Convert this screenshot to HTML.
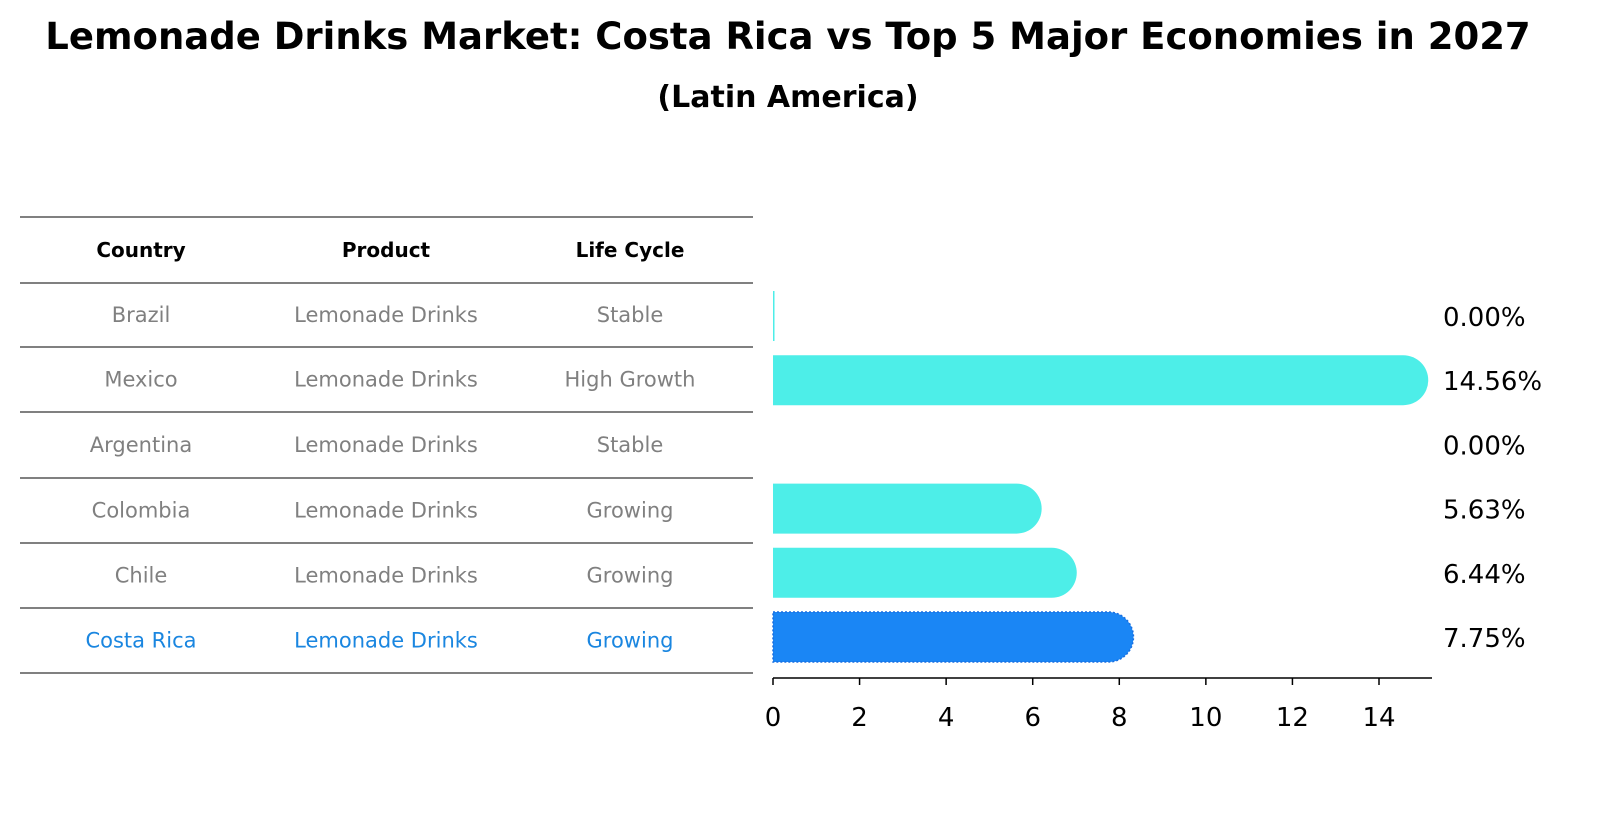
<!DOCTYPE html>
<html><head><meta charset="utf-8"><style>
html,body{margin:0;padding:0;background:#fff;overflow:hidden;width:1607px;height:823px;}
svg{display:block;}
</style></head><body>
<svg width="1607" height="823" viewBox="0 0 1607 823" xmlns="http://www.w3.org/2000/svg" font-family="DejaVu Sans, Liberation Sans, sans-serif">
<text x="788" y="49" text-anchor="middle" font-size="37" font-weight="bold">Lemonade Drinks Market: Costa Rica vs Top 5 Major Economies in 2027</text>
<text x="788" y="107" text-anchor="middle" font-size="30" font-weight="bold">(Latin America)</text>
<g id="table"></g>
<g id="bars"></g>
<g id="axis"></g>
</svg>
<script>
const countries=["Brazil","Mexico","Argentina","Colombia","Chile","Costa Rica"];
const products=["Lemonade Drinks","Lemonade Drinks","Lemonade Drinks","Lemonade Drinks","Lemonade Drinks","Lemonade Drinks"];
const lifeCycles=["Stable","High Growth","Stable","Growing","Growing","Growing"];
const values=[0.00,14.56,0.00,5.63,6.44,7.75];
const ticks=[0,2,4,6,8,10,12,14];
const NS="http://www.w3.org/2000/svg";
function mk(tag,attrs,parent,text){const e=document.createElementNS(NS,tag);for(const k in attrs)e.setAttribute(k,attrs[k]);if(text!==undefined)e.textContent=text;parent.appendChild(e);return e;}
const x0=773,unit=(1379-773)/14;
const xs=v=>x0+v*unit;
const rowY=i=>316+i*64.2;
const tbl=document.getElementById('table'),bars=document.getElementById('bars'),axis=document.getElementById('axis');
const colX=[141,386,630];
const lineYs=[217,283,347,412,478,543,608,673];
lineYs.forEach(y=>{const l=mk('line',{x1:20,x2:753,y1:y,y2:y,stroke:'#000','stroke-width':1},tbl);

});
["Country","Product","Life Cycle"].forEach((h,j)=>{const t=mk('text',{x:colX[j],y:257,'text-anchor':'middle','font-size':20,'font-weight':'bold'},tbl,h);

});
countries.forEach((c,i)=>{
 const y=(lineYs[i+1]+lineYs[i+2])/2+7;
 const col=c==="Costa Rica"?'#1a86e0':'#808080';
 [c,products[i],lifeCycles[i]].forEach((v,j)=>{const t=mk('text',{x:colX[j],y:y,'text-anchor':'middle','font-size':21,fill:col},tbl,v);
 
 });
 const cy=rowY(i),h=50,r=25,w=xs(values[i])-x0;
 const hl=c==="Costa Rica";
 const fill=hl?'#1a86f5':'#4deee8';
 let b;
 if(w>0){b=mk('path',{d:`M${x0},${cy-h/2} H${x0+w} A${r},${r} 0 0 1 ${x0+w},${cy+h/2} H${x0} Z`,fill:fill},bars);
 if(hl){b.setAttribute('stroke','#1a6fe0');b.setAttribute('stroke-dasharray','2,2');b.setAttribute('stroke-width','1.5');}}
 else if(i===0){b=mk('rect',{x:x0,y:cy-h/2,width:1.5,height:h,fill:fill},bars);}
 if(b){
 }
 const lb=mk('text',{x:1443,y:cy+10,'font-size':26},bars,values[i].toFixed(2)+'%');
 
 
});
const al=mk('line',{x1:x0,x2:1432,y1:678,y2:678,stroke:'#000','stroke-width':1.5},axis);


ticks.forEach(t=>{const x=xs(t);
 const tk=mk('line',{x1:x,x2:x,y1:678,y2:685,stroke:'#000','stroke-width':1.5},axis);
 
 
 const tl=mk('text',{x:x,y:726,'text-anchor':'middle','font-size':26},axis,String(t));
 
 });
</script>
</body></html>
